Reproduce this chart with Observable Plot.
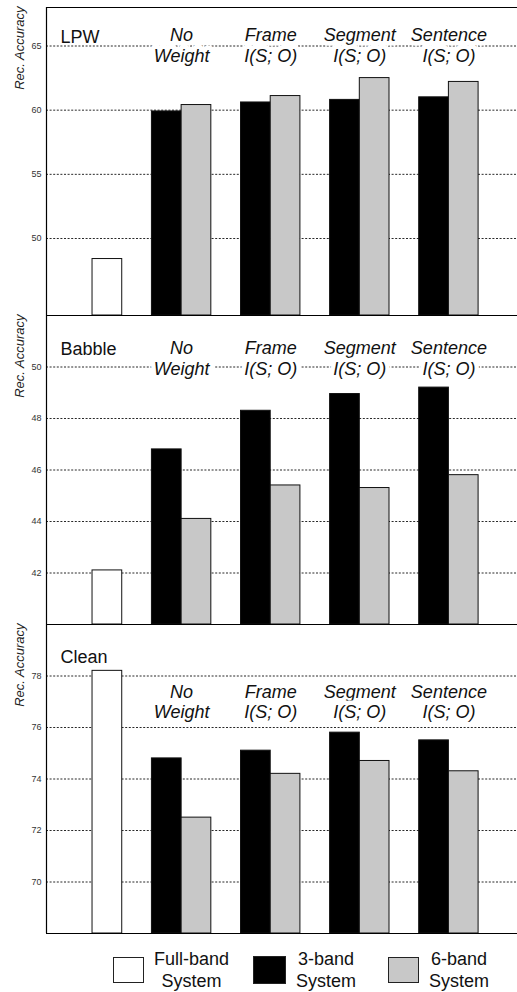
<!DOCTYPE html>
<html>
<head>
<meta charset="utf-8">
<script src="https://cdn.jsdelivr.net/npm/d3@7"></script>
<script src="https://cdn.jsdelivr.net/npm/@observablehq/plot@0.6"></script>
<style>
  body { margin: 0; background: white; font-family: "Liberation Sans", Arial, Helvetica, sans-serif; }
  #charts svg { display: block; background: transparent; overflow: visible; }
  #c0 { margin-top: 6px; }
  #c1, #c2 { margin-top: -2px; }
  #legend { position: relative; height: 45px; margin-top: 13px; }
  .item { position: absolute; top: 0; display: flex; align-items: center; height: 45px; }
  .box { width: 31px; height: 26px; border: 1px solid #222; box-sizing: border-box; }
  .lbl { margin-left: 10px; font-size: 18px; line-height: 22px; text-align: center; color: #111; }
</style>
</head>
<body>
<div id="charts"><div id="c0"></div><div id="c1"></div><div id="c2"></div></div>
<div id="legend"></div>
<script>
// ---- data ----
const panels = ["LPW", "Babble", "Clean"];
const groups = ["No\nWeight", "Frame\nI(S; O)", "Segment\nI(S; O)", "Sentence\nI(S; O)"];
const seriesNames = ["Full-band System", "3-band System", "6-band System"];
const seriesColors = ["white", "black", "#c8c8c8"];
const fullBand = [48.4, 42.1, 78.2];
const band3 = [
  [59.9, 60.6, 60.8, 61.0],
  [46.8, 48.3, 48.95, 49.2],
  [74.8, 75.1, 75.8, 75.5]
];
const band6 = [
  [60.4, 61.1, 62.5, 62.2],
  [44.1, 45.4, 45.3, 45.8],
  [72.5, 74.2, 74.7, 74.3]
];
const yDomains = [[44, 68], [40, 52], [68, 80]];
const yTicks = [[50, 55, 60, 65], [42, 44, 46, 48, 50], [70, 72, 74, 76, 78]];
const groupLabelY = [65.07, 50.35, 77.0];
const yLabel = "Rec. Accuracy";

const font = '"Liberation Sans", Arial, Helvetica, sans-serif';
const heights = [310, 311, 311];
const panelLabelDy = [23, 27, 26];

panels.forEach((p, i) => {
  const [ymin, ymax] = yDomains[i];
  // build bar table
  const bars = [{x1: 1, x2: 2, value: fullBand[i], series: seriesNames[0]}];
  groups.forEach((g, j) => {
    const base = 3 * (j + 1);
    bars.push({x1: base, x2: base + 1, value: band3[i][j], series: seriesNames[1]});
    bars.push({x1: base + 1, x2: base + 2, value: band6[i][j], series: seriesNames[2]});
  });
  const chart = Plot.plot({
    width: 517,
    height: heights[i],
    marginLeft: 46,
    marginRight: 0,
    marginTop: 1,
    marginBottom: 1,
    style: {fontFamily: font, fontSize: "9px", color: "#333", background: "transparent", overflow: "visible"},
    x: {domain: [-0.55, 15.31], axis: null},
    y: {domain: [ymin, ymax], ticks: yTicks[i], tickSize: 0, tickPadding: 5, label: null, tickFormat: d => d},
    color: {domain: seriesNames, range: seriesColors},
    marks: [
      Plot.ruleY(yTicks[i], {stroke: "#111", strokeWidth: 0.9, strokeDasharray: "2,1.6"}),
      Plot.text(groups, {
        x: (d, j) => 3 * (j + 1) + 1,
        y: () => groupLabelY[i],
        text: d => d,
        fontStyle: "italic",
        fontSize: 18,
        lineHeight: 1.12,
        fill: "#111",
        stroke: "white",
        strokeWidth: 9,
        strokeLinejoin: "round"
      }),
      Plot.rect(bars, {x1: "x1", x2: "x2", y1: () => ymin, y2: "value", fill: "series", stroke: "#111", strokeWidth: 1}),
      Plot.ruleY([ymin, ymax], {stroke: "black", strokeWidth: 1.2}),
      Plot.ruleX([-0.55], {stroke: "black", strokeWidth: 1.2}),
      Plot.text([p], {frameAnchor: "top-left", dx: 14, dy: panelLabelDy[i], textAnchor: "start", fontSize: 18, fill: "#111"}),
      Plot.text([yLabel], {frameAnchor: "top-left", rotate: -90, textAnchor: "end", dx: -32, dy: -1, fontStyle: "italic", fontSize: 13, fill: "#222"})
    ]
  });
  document.getElementById("c" + i).appendChild(chart);
});

// ---- legend ----
const legendLeft = [113, 253, 388];
const legend = document.getElementById("legend");
seriesNames.forEach((s, k) => {
  const item = document.createElement("div");
  item.className = "item";
  item.style.left = legendLeft[k] + "px";
  const box = document.createElement("div");
  box.className = "box";
  box.style.background = seriesColors[k];
  if (k === 1) { box.style.width = "33px"; box.style.height = "28px"; }
  const lbl = document.createElement("div");
  lbl.className = "lbl";
  const parts = s.split(" ");
  lbl.innerHTML = parts[0] + "<br>" + parts[1];
  item.appendChild(box);
  item.appendChild(lbl);
  legend.appendChild(item);
});
</script>
</body>
</html>
